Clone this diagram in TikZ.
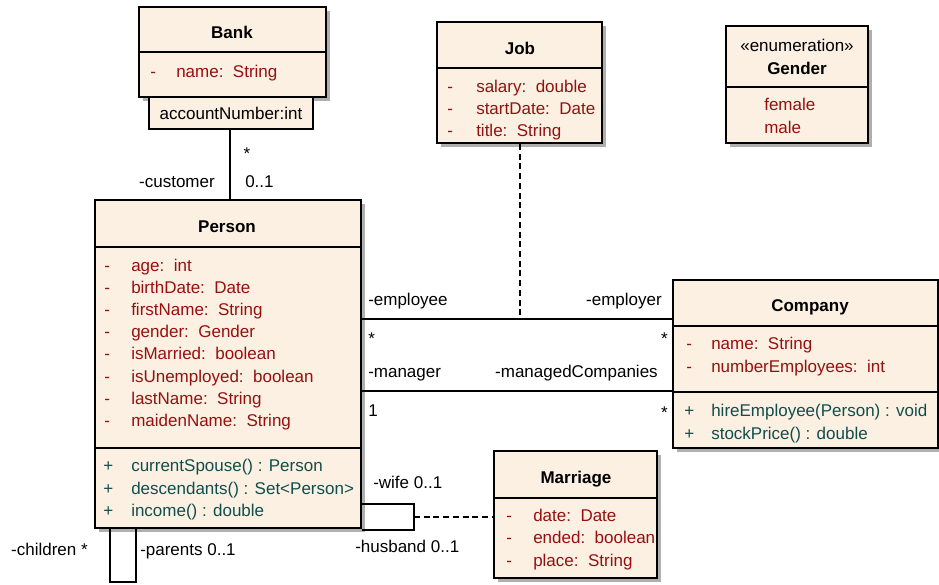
\documentclass[tikz,border=0pt]{standalone}
\usepackage{fontspec}
\setmainfont{Liberation Sans}
\usetikzlibrary{fit,shadows}
\definecolor{boxfill}{RGB}{251,240,226}
\definecolor{attrcol}{RGB}{150,16,16}
\definecolor{methcol}{RGB}{16,78,78}
\definecolor{shadecol}{RGB}{175,175,175}
\begin{document}
\begin{tikzpicture}[x=0.75pt,y=-0.75pt,
  font=\fontsize{12.75}{15}\selectfont,
  classbox/.style={draw=black, line width=1.35pt, fill=boxfill, inner sep=0pt,
    drop shadow={shadow xshift=3pt, shadow yshift=-3pt, fill=shadecol, opacity=1}},
  qualbox/.style={draw=black, line width=1.35pt, fill=boxfill, inner sep=0pt},
  divline/.style={line width=1.35pt},
  conn/.style={line width=1.35pt},
  dconn/.style={line width=1.5pt, dash pattern=on 4.5pt off 2.8pt},
  txt/.style={inner sep=0pt, yshift=-2.2pt},
  title/.style={txt, font=\fontsize{12.75}{15}\selectfont\bfseries, anchor=mid},
  plain/.style={txt, anchor=mid},
  attr/.style={txt, text=attrcol, anchor=mid west},
  meth/.style={txt, text=methcol, anchor=mid west},
  lblw/.style={txt, anchor=mid west},
  lble/.style={txt, anchor=mid east},
]
\useasboundingbox (0,0) rectangle (939,585);

% ---------------- Bank ----------------
\node[classbox, fit={(139,7) (326,97)}] (bank) {};
\draw[divline] (bank.west |- 0,52) -- (bank.east |- 0,52);
\node[title] (bankt) at (232,32) {Bank};
\node[attr] (bankv1) at (150,71) {-};
\node[attr] (bankn1) at (176,71) {name:\ \ String};
\node[qualbox, fit={(149,97) (313,129)}] (qual) {};
\node[plain] (qualt) at (231,113) {accountNumber:int};

% ---------------- Job ----------------
\node[classbox, fit={(437,22) (602,143)}] (job) {};
\draw[divline] (job.west |- 0,68) -- (job.east |- 0,68);
\node[title] (jobt) at (520,48) {Job};
\node[attr] (jobv1) at (447,86) {-};
\node[attr] (jobn1) at (476,86) {salary:\ \ double};
\node[attr] (jobv2) at (447,108) {-};
\node[attr] (jobn2) at (476,108) {startDate:\ \ Date};
\node[attr] (jobv3) at (447,130) {-};
\node[attr] (jobn3) at (476,130) {title:\ \ String};

% ---------------- Gender ----------------
\node[classbox, fit={(726,26) (868,143)}] (gender) {};
\draw[divline] (gender.west |- 0,87) -- (gender.east |- 0,87);
\node[plain] (gst) at (797,45) {«enumeration»};
\node[title] (gt) at (797,68) {Gender};
\node[attr] (gl1) at (764,104) {female};
\node[attr] (gl2) at (764,127) {male};

% ---------------- Person ----------------
\node[classbox, fit={(95,200) (361,528)}] (person) {};
\draw[divline] (person.west |- 0,247) -- (person.east |- 0,247);
\draw[divline] (person.west |- 0,448) -- (person.east |- 0,448);
\node[title] (persont) at (227,226) {Person};
\node[attr] (pv1) at (104,265) {-};
\node[attr] (pn1) at (131,265) {age:\ \ int};
\node[attr] (pv2) at (104,287) {-};
\node[attr] (pn2) at (131,287) {birthDate:\ \ Date};
\node[attr] (pv3) at (104,309) {-};
\node[attr] (pn3) at (131,309) {firstName:\ \ String};
\node[attr] (pv4) at (104,331) {-};
\node[attr] (pn4) at (131,331) {gender:\ \ Gender};
\node[attr] (pv5) at (104,353) {-};
\node[attr] (pn5) at (131,353) {isMarried:\ \ boolean};
\node[attr] (pv6) at (104,376) {-};
\node[attr] (pn6) at (131,376) {isUnemployed:\ \ boolean};
\node[attr] (pv7) at (104,398) {-};
\node[attr] (pn7) at (131,398) {lastName:\ \ String};
\node[attr] (pv8) at (104,420) {-};
\node[attr] (pn8) at (131,420) {maidenName:\ \ String};
\node[meth] (pm1v) at (103,465) {+};
\node[meth] (pm1) at (131,465) {currentSpouse() : Person};
\node[meth] (pm2v) at (103,488) {+};
\node[meth] (pm2) at (131,488) {descendants() : Set<Person>};
\node[meth] (pm3v) at (103,510) {+};
\node[meth] (pm3) at (131,510) {income() : double};

% ---------------- Company ----------------
\node[classbox, fit={(673,280) (938,448)}] (company) {};
\draw[divline] (company.west |- 0,326) -- (company.east |- 0,326);
\draw[divline] (company.west |- 0,392) -- (company.east |- 0,392);
\node[title] (companyt) at (810,305) {Company};
\node[attr] (cv1) at (686,343) {-};
\node[attr] (cn1) at (711,343) {name:\ \ String};
\node[attr] (cv2) at (686,366) {-};
\node[attr] (cn2) at (711,366) {numberEmployees:\ \ int};
\node[meth] (cm1v) at (684,410) {+};
\node[meth] (cm1) at (711,410) {hireEmployee(Person) : void};
\node[meth] (cm2v) at (684,433) {+};
\node[meth] (cm2) at (711,433) {stockPrice() : double};

% ---------------- Marriage ----------------
\node[classbox, fit={(494,451) (657,578)}] (marriage) {};
\draw[divline] (marriage.west |- 0,498) -- (marriage.east |- 0,498);
\node[title] (marriaget) at (576,477) {Marriage};
\node[attr] (mv1) at (506,515) {-};
\node[attr] (mn1) at (533,515) {date:\ \ Date};
\node[attr] (mv2) at (506,537) {-};
\node[attr] (mn2) at (533,537) {ended:\ \ boolean};
\node[attr] (mv3) at (506,560) {-};
\node[attr] (mn3) at (533,560) {place:\ \ String};

% ---------------- Connectors ----------------
% Bank - Person
\draw[conn] (qual.south -| 230,0) -- (person.north -| 230,0);
\node[plain] (l1) at (247,153) {*};
\node[lblw] (l2) at (245,181) {0..1};
\node[lble] (l3) at (215,181) {-customer};

% Person - Company (employment)
\draw[conn] (person.east |- 0,319) -- (company.west |- 0,319);
\coordinate (jobjoin) at (520,319);
\draw[dconn] (job.south -| jobjoin) -- (jobjoin);
\node[lblw] (l4) at (368,299) {-employee};
\node[lble] (l5) at (662,299) {-employer};
\node[lblw] (l6) at (368,338) {*};
\node[lble] (l7) at (668,338) {*};

% Person - Company (management)
\draw[conn] (person.east |- 0,391) -- (company.west |- 0,391);
\node[lblw] (l8) at (368,371) {-manager};
\node[lble] (l9) at (658,371) {-managedCompanies};
\node[lblw] (l10) at (368,410) {1};
\node[lble] (l11) at (668,412) {*};

% Marriage self-association
\draw[conn] (person.east |- 0,504) -- (414,504) -- (414,530) -- (person.east |- 0,530);
\coordinate (wl) at (414,517);
\draw[dconn] (wl) -- (marriage.west |- wl);
\node[lblw] (l12) at (373,482) {-wife 0..1};
\node[lblw] (l13) at (355,546) {-husband 0..1};

% Parents / children self-association
\draw[conn] (person.south -| 110,0) -- (110,582) -- (136,582) -- (person.south -| 136,0);
\node[lble] (l14) at (88,549) {-children *};
\node[lblw] (l15) at (140,549) {-parents 0..1};
\end{tikzpicture}
\end{document}
